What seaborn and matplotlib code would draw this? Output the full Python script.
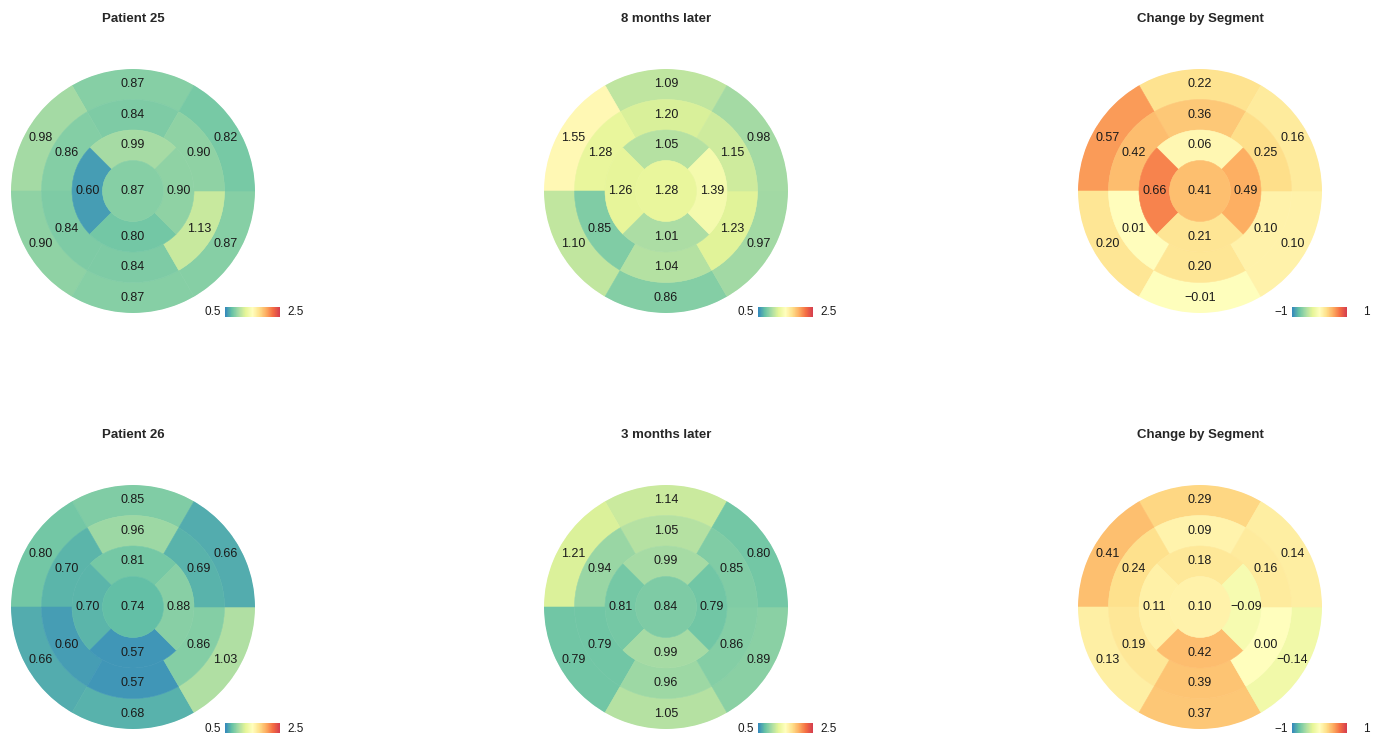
import numpy as np
import matplotlib
matplotlib.use("Agg")
import matplotlib.pyplot as plt
import seaborn as sns
from matplotlib.colors import LinearSegmentedColormap, Normalize
from matplotlib.colorbar import ColorbarBase

sns.set_style("white")
plt.rcParams["font.family"] = ["Liberation Sans", "DejaVu Sans"]

# Segment values (AHA order: basal 1-6, mid 7-12 ccw from anterior, apical 13-16, apex 17)
titles = ["Patient 25", "8 months later", "Change by Segment",
          "Patient 26", "3 months later", "Change by Segment"]

p25_basal = [0.87, 0.98, 0.90, 0.87, 0.87, 0.82]
p25_mid = [0.84, 0.86, 0.84, 0.84, 1.13, 0.90]
p25_apical = [0.99, 0.60, 0.80, 0.90]
p25_apex = 0.87

p25b_basal = [1.09, 1.55, 1.10, 0.86, 0.97, 0.98]
p25b_mid = [1.20, 1.28, 0.85, 1.04, 1.23, 1.15]
p25b_apical = [1.05, 1.26, 1.01, 1.39]
p25b_apex = 1.28

d25_basal = [0.22, 0.57, 0.20, -0.01, 0.10, 0.16]
d25_mid = [0.36, 0.42, 0.01, 0.20, 0.10, 0.25]
d25_apical = [0.06, 0.66, 0.21, 0.49]
d25_apex = 0.41

p26_basal = [0.85, 0.80, 0.66, 0.68, 1.03, 0.66]
p26_mid = [0.96, 0.70, 0.60, 0.57, 0.86, 0.69]
p26_apical = [0.81, 0.70, 0.57, 0.88]
p26_apex = 0.74

p26b_basal = [1.14, 1.21, 0.79, 1.05, 0.89, 0.80]
p26b_mid = [1.05, 0.94, 0.79, 0.96, 0.86, 0.85]
p26b_apical = [0.99, 0.81, 0.99, 0.79]
p26b_apex = 0.84

d26_basal = [0.29, 0.41, 0.13, 0.37, -0.14, 0.14]
d26_mid = [0.09, 0.24, 0.19, 0.39, 0.00, 0.16]
d26_apical = [0.18, 0.11, 0.42, -0.09]
d26_apex = 0.10

abs_range = (0.5, 2.5)
abs_labels = ("0.5", "2.5")
chg_range = (-1, 1)
chg_labels = ("\u22121", "1")

panels = [
    (p25_basal, p25_mid, p25_apical, p25_apex, abs_range, abs_labels),
    (p25b_basal, p25b_mid, p25b_apical, p25b_apex, abs_range, abs_labels),
    (d25_basal, d25_mid, d25_apical, d25_apex, chg_range, chg_labels),
    (p26_basal, p26_mid, p26_apical, p26_apex, abs_range, abs_labels),
    (p26b_basal, p26b_mid, p26b_apical, p26b_apex, abs_range, abs_labels),
    (d26_basal, d26_mid, d26_apical, d26_apex, chg_range, chg_labels),
]

cmap = LinearSegmentedColormap.from_list("spec9", sns.color_palette("Spectral_r", 9))


def fmt(v):
    return f"{v:.2f}".replace("-", "\u2212")


W, H = 1381, 740
fig = plt.figure(figsize=(W / 100, H / 100), dpi=100)

centers_x = [133, 666, 1200]
centers_y = [191, 607]
R = 122
txt_col = "#1a1a1a"

for i, (basal, mid, apical, apex, lims, cb_labels) in enumerate(panels):
    cx = centers_x[i % 3]
    cy = centers_y[i // 3]
    ax = fig.add_axes([(cx - R) / W, (H - cy - R) / H, 2 * R / W, 2 * R / H],
                      projection="polar")
    norm = Normalize(*lims)

    rings = [(basal, 0.75), (mid, 0.5), (apical, 0.25)]
    for vals, bottom in rings:
        n = len(vals)
        width = 2 * np.pi / n
        theta = np.pi / 2 + np.arange(n) * width
        cols = [cmap(norm(v)) for v in vals]
        ax.bar(theta, 0.25, width=width, bottom=bottom, color=cols,
               edgecolor=cols, linewidth=0.4, align="center")
        for t, v in zip(theta, vals):
            ax.text(t, bottom + 0.125, fmt(v), ha="center", va="center",
                    fontsize=9, color=txt_col)
    ac = cmap(norm(apex))
    ax.bar(0, 0.25, width=2 * np.pi, bottom=0, color=ac, edgecolor=ac, linewidth=0.4)
    ax.text(0, 0, fmt(apex), ha="center", va="center", fontsize=9, color=txt_col)

    ax.set_ylim(0, 1)
    ax.set_xticks([])
    ax.set_yticks([])
    ax.grid(False)
    ax.spines["polar"].set_visible(False)
    ax.set_facecolor("none")

    fig.text(cx / W, 1 - (cy - 172) / H, titles[i], ha="center", va="center",
             fontsize=9.5, fontweight="bold")

    # small colorbar
    cax = fig.add_axes([(cx + 92) / W, (H - cy - 126) / H, 55 / W, 10 / H])
    ColorbarBase(cax, cmap=cmap, norm=norm, orientation="horizontal")
    cax.set_xticks([])
    cax.set_yticks([])
    for s in cax.spines.values():
        s.set_visible(False)
    cax.text(-0.08, 0.45, cb_labels[0], transform=cax.transAxes, ha="right",
             va="center", fontsize=8.5, color=txt_col)
    right_x = 1.3 if lims[0] < 0 else 1.13
    cax.text(right_x, 0.45, cb_labels[1], transform=cax.transAxes, ha="left",
             va="center", fontsize=8.5, color=txt_col)

fig.savefig("out.png", dpi=100)
